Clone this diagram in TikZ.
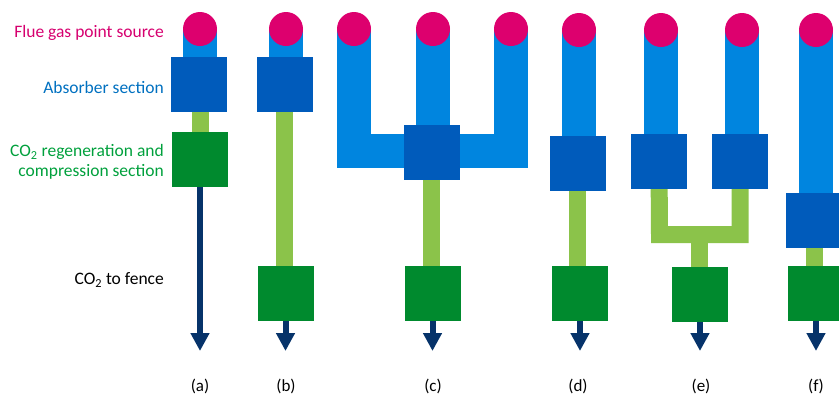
\documentclass[tikz,border=0pt]{standalone}
\usepackage{fontspec}
\setmainfont{Carlito}
\usetikzlibrary{arrows.meta,backgrounds}
\definecolor{srcmag}{HTML}{DD006E}
\definecolor{stemblue}{HTML}{0085DF}
\definecolor{absblue}{HTML}{005BBB}
\definecolor{barlg}{HTML}{8BC34A}
\definecolor{regg}{HTML}{008A2E}
\definecolor{navy}{HTML}{06336A}
\definecolor{txtmag}{HTML}{D6006F}
\definecolor{txtblue}{HTML}{0070C0}
\definecolor{txtgreen}{HTML}{00A03C}
\begin{document}
\begin{tikzpicture}[x=1pt,y=-1pt,
  src/.style={circle,fill=srcmag,minimum size=34pt,inner sep=0pt},
  absbox/.style={rectangle,fill=absblue,minimum width=56pt,minimum height=55pt,inner sep=0pt},
  regbox/.style={rectangle,fill=regg,minimum width=56pt,minimum height=55pt,inner sep=0pt},
  stem/.style={stemblue,line width=34pt,line join=miter},
  gbar/.style={barlg,line width=17pt,line join=miter},
  outarrow/.style={navy,line width=6pt,-{Triangle[length=18pt,width=18pt]}},
  lbl/.style={font=\fontsize{17.5}{20}\selectfont,anchor=east,inner sep=0pt,align=right},
  captxt/.style={font=\fontsize{17}{20}\selectfont,inner sep=0pt}]
\useasboundingbox (0,0) rectangle (839,397);
\clip (0,0) rectangle (839,397);

% labels
\node[lbl,text=txtmag] (lsrc) at (164,33) {Flue gas point source};
\node[lbl,text=txtblue] (labs) at (164,87) {Absorber section};
\node[lbl,text=txtgreen] (lreg) at (164,162) {CO\textsubscript{2} regeneration and\\compression section};
\node[lbl,text=black] (lfence) at (164,280) {CO\textsubscript{2} to fence};

% (a)
\node[src] (sa) at (200,29) {};
\node[absbox] (aa) at (199,84.5) {};
\node[regbox] (ra) at (200,159.5) {};
\coordinate (ta) at (200,351);
% (b)
\node[src] (sb) at (286,29) {};
\node[absbox] (ab) at (284.5,84.5) {};
\node[regbox] (rb) at (285.5,293.5) {};
\coordinate (tb) at (286,351);
% (c)
\node[src] (sc1) at (354,29) {};
\node[src] (sc2) at (433,29) {};
\node[src] (sc3) at (511,29) {};
\node[absbox] (ac) at (431.5,152) {};
\node[regbox] (rc) at (432.5,293.5) {};
\coordinate (tc) at (433,351);
\coordinate (hl) at (356,150.5);
\coordinate (hr) at (509.5,150.5);
% (d)
\node[src] (sd) at (579,30) {};
\node[absbox] (ad) at (577.5,163) {};
\node[regbox] (rd) at (580,293.5) {};
\coordinate (td) at (580,351);
% (e)
\node[src] (se1) at (661,30) {};
\node[src] (se2) at (742,30) {};
\node[absbox] (ae1) at (659,161.5) {};
\node[absbox] (ae2) at (740,161.5) {};
\node[regbox] (re) at (700,294.5) {};
\coordinate (fl) at (659.5,234.5);
\coordinate (fr) at (740,234.5);
\coordinate (fm) at (699.5,234.5);
\coordinate (te) at (700,351);
% (f)
\node[src] (sf) at (816,30) {};
\node[absbox] (af) at (814,220.5) {};
\node[regbox] (rf) at (816,293) {};
\coordinate (tf) at (817,351);

\begin{scope}[on background layer]
  % stems
  \draw[stem] (sa.center) -- (sa.center |- aa.center);
  \draw[stem] (sb.center) -- (sb.center |- ab.center);
  \draw[stem] (sc1.center) -- (sc1.center |- hl) -- (sc3.center |- hr) -- (sc3.center);
  \draw[stem] (sc2.center) -- (sc2.center |- ac.center);
  \draw[stem] (sd.center) -- (sd.center |- ad.center);
  \draw[stem] (se1.center) -- (se1.center |- ae1.center);
  \draw[stem] (se2.center) -- (se2.center |- ae2.center);
  \draw[stem] (sf.center) -- (sf.center |- af.center);
  % green bars
  \draw[gbar] (ra.center |- aa.center) -- (ra.center);
  \draw[gbar] (ab.center) -- (ab.center |- rb.center);
  \draw[gbar] (ac.center) -- (ac.center |- rc.center);
  \draw[gbar] (ad.center) -- (ad.center |- rd.center);
  \draw[gbar] (ae1.center) -- (fl) -- (fr) -- (ae2.center);
  \draw[gbar] (fm) -- (fm |- re.center);
  \draw[gbar] (af.center) -- (af.center |- rf.center);
\end{scope}

% output arrows
\draw[outarrow] (ra.south) -- (ra.south |- ta);
\draw[outarrow] (rb.south) -- (rb.south |- tb);
\draw[outarrow] (rc.south) -- (rc.south |- tc);
\draw[outarrow] (rd.south) -- (rd.south |- td);
\draw[outarrow] (re.south) -- (re.south |- te);
\draw[outarrow] (rf.south) -- (rf.south |- tf);

% captions
\node[captxt] (ca) at (200,386) {(a)};
\node[captxt] (cb) at (286,386) {(b)};
\node[captxt] (cc) at (433,386) {(c)};
\node[captxt] (cd) at (578,386) {(d)};
\node[captxt] (ce) at (701,386) {(e)};
\node[captxt] (cf) at (816,386) {(f)};
\end{tikzpicture}
\end{document}
